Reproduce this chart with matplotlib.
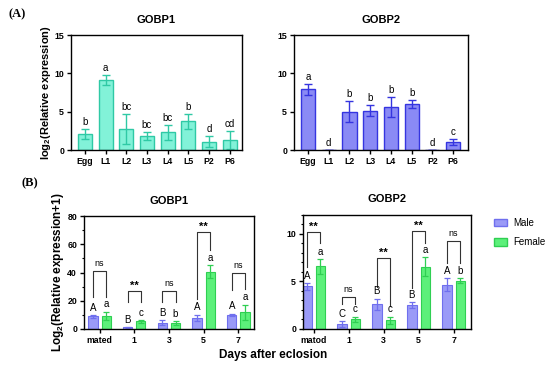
import matplotlib
matplotlib.use("Agg")
import matplotlib.pyplot as plt
from matplotlib.patches import Patch
import numpy as np

plt.rcParams["font.family"] = "Liberation Sans"
plt.rcParams["mathtext.fontset"] = "custom"
plt.rcParams["mathtext.rm"] = "Liberation Sans"
plt.rcParams["mathtext.bf"] = "Liberation Sans:bold"

# ---- panel A data (developmental stages)
stages = ["Egg", "L1", "L2", "L3", "L4", "L5", "P2", "P6"]
a1_mean = [2.1, 9.1, 2.8, 1.8, 2.3, 3.75, 1.1, 1.35]
a1_err = [0.6, 0.65, 1.95, 0.5, 1.0, 1.0, 0.7, 1.15]
a1_let = ["b", "a", "bc", "bc", "bc", "b", "d", "cd"]
a2_mean = [7.95, 0.05, 5.0, 5.15, 5.6, 6.05, 0.05, 1.0]
a2_err = [0.7, 0.0, 1.4, 0.7, 1.3, 0.5, 0.0, 0.4]
a2_let = ["a", "d", "b", "b", "b", "b", "d", "c"]

# ---- panel B data (days after eclosion, male / female)
b1_days = ["mated", "1", "3", "5", "7"]
b2_days = ["matod", "1", "3", "5", "7"]
b1_male = [9.0, 1.2, 4.5, 8.0, 10.0]
b1_male_err = [1.0, 0.3, 2.0, 2.2, 0.9]
b1_fem = [9.3, 5.5, 4.0, 40.5, 11.8]
b1_fem_err = [3.0, 1.1, 1.5, 4.7, 5.5]
b1_male_let = ["A", "B", "B", "A", "A"]
b1_fem_let = ["a", "c", "b", "a", "a"]
b1_sig = ["ns", "**", "ns", "**", "ns"]
b1_br_top = [41, 27, 27, 69, 40]
b1_br_left = [23, 19.3, 19.4, 21, 27.6]
b1_br_right = [23, 19.3, 19.4, 56, 28]

b2_male = [4.5, 0.55, 2.6, 2.55, 4.65]
b2_male_err = [0.35, 0.3, 0.6, 0.3, 0.7]
b2_fem = [6.6, 1.0, 0.9, 6.55, 5.1]
b2_fem_err = [0.8, 0.3, 0.4, 1.0, 0.3]
b2_male_let = ["A", "C", "B", "B", "A"]
b2_fem_let = ["a", "c", "c", "a", "b"]
b2_sig = ["**", "ns", "**", "**", "ns"]
b2_br_top = [10.24, 3.4, 7.5, 10.3, 9.26]
b2_br_left = [6.55, 2.6, 4.45, 4.3, 6.9]
b2_br_right = [9.0, 2.6, 2.4, 9.1, 6.9]

male_fc, male_ec = "#9a9af7", "#6f6fee"
fem_fc, fem_ec = "#5cf07a", "#2fcf52"

fig = plt.figure(figsize=(5.5, 3.66), dpi=100)


def style_axes(ax):
    for s in ax.spines.values():
        s.set_linewidth(1.0)
        s.set_color("black")
    ax.tick_params(axis="both", direction="out", length=3, width=1, labelsize=6.3, pad=2)
    for lab in ax.get_xticklabels() + ax.get_yticklabels():
        lab.set_fontweight("bold")


def stage_panel(rect, mean, err, letters, fc, ec, title, xlim, ylabel=None):
    ax = fig.add_axes(rect)
    x = np.arange(len(stages))
    ax.bar(x, mean, width=0.68, color=fc, edgecolor=ec, linewidth=1.0)
    ax.errorbar(x, mean, yerr=err, fmt="none", ecolor=ec, elinewidth=1.0, capsize=3, capthick=1.0)
    for i in range(len(x)):
        ax.annotate(letters[i], (x[i], mean[i] + err[i]), xytext=(0, 3), textcoords="offset points",
                    ha="center", va="baseline", fontsize=7)
    ax.set_xlim(xlim)
    ax.set_ylim(0, 15)
    ax.set_yticks([0, 5, 10, 15])
    ax.set_xticks(x)
    ax.set_xticklabels(stages)
    ax.set_title(title, fontsize=8, fontweight="bold", pad=9)
    if ylabel:
        ax.set_ylabel(ylabel, fontsize=8, fontweight="bold", labelpad=1)
    style_axes(ax)
    return ax


def day_panel(rect, days, male, male_err, fem, fem_err, mlet, flet, sig, top, left, right,
              title, ylim, yticks, minor, xlim, ylabel=None):
    ax = fig.add_axes(rect)
    g = np.arange(len(days))
    off = 0.19
    w = 0.265
    ax.bar(g - off, male, width=w, color=male_fc, edgecolor=male_ec, linewidth=0.8)
    ax.bar(g + off, fem, width=w, color=fem_fc, edgecolor=fem_ec, linewidth=0.8)
    ax.errorbar(g - off, male, yerr=male_err, fmt="none", ecolor=male_ec, elinewidth=0.9, capsize=2, capthick=0.9)
    ax.errorbar(g + off, fem, yerr=fem_err, fmt="none", ecolor=fem_ec, elinewidth=0.9, capsize=2, capthick=0.9)
    for i in range(len(g)):
        ax.annotate(mlet[i], (g[i] - off, male[i] + male_err[i]), xytext=(0, 3), textcoords="offset points",
                    ha="center", va="baseline", fontsize=7)
        ax.annotate(flet[i], (g[i] + off, fem[i] + fem_err[i]), xytext=(0, 3), textcoords="offset points",
                    ha="center", va="baseline", fontsize=7)
        ax.plot([g[i] - off, g[i] - off, g[i] + off, g[i] + off], [left[i], top[i], top[i], right[i]],
                color="#333333", linewidth=0.8)
        if sig[i] == "**":
            ax.annotate(sig[i], (g[i], top[i]), xytext=(0, 0), textcoords="offset points",
                        ha="center", va="bottom", fontsize=8, fontweight="bold")
        else:
            ax.annotate(sig[i], (g[i], top[i]), xytext=(0, 2), textcoords="offset points",
                        ha="center", va="bottom", fontsize=6.5)
    ax.set_xlim(xlim)
    ax.set_ylim(ylim)
    ax.set_yticks(yticks)
    ax.set_yticks(np.arange(ylim[0], ylim[1] + 0.01, minor), minor=True)
    ax.tick_params(axis="y", which="minor", length=1.5, width=0.8)
    ax.set_xticks(g)
    ax.set_xticklabels(days)
    ax.set_title(title, fontsize=8, fontweight="bold", pad=9)
    if ylabel:
        ax.set_ylabel(ylabel, fontsize=8.5, fontweight="bold", labelpad=1)
    style_axes(ax)
    return ax


stage_panel([0.129, 0.590, 0.311, 0.314], a1_mean, a1_err, a1_let, "#82f2d8", "#2fc9a5", "GOBP1",
            (-0.68, 7.6), ylabel=r"log$_\mathbf{2}$(Relative expression)")
stage_panel([0.5345, 0.590, 0.3164, 0.314], a2_mean, a2_err, a2_let, "#8a8af5", "#3535e0", "GOBP2",
            (-0.68, 7.72))

day_panel([0.1527, 0.1011, 0.309, 0.3087], b1_days, b1_male, b1_male_err, b1_fem, b1_fem_err,
          b1_male_let, b1_fem_let, b1_sig, b1_br_top, b1_br_left, b1_br_right, "GOBP1",
          (0, 80), [0, 20, 40, 60, 80], 10, (-0.45, 4.45),
          ylabel=r"Log$_\mathbf{2}$(Relative expression+1)")
day_panel([0.551, 0.1011, 0.3055, 0.3115], b2_days, b2_male, b2_male_err, b2_fem, b2_fem_err,
          b2_male_let, b2_fem_let, b2_sig, b2_br_top, b2_br_left, b2_br_right, "GOBP2",
          (0, 12), [0, 5, 10], 1, (-0.3, 4.5))

fig.legend(handles=[Patch(facecolor=male_fc, edgecolor=male_ec, label="Male"),
                    Patch(facecolor=fem_fc, edgecolor=fem_ec, label="Female")],
           loc="upper left", bbox_to_anchor=(0.898, 0.405), frameon=False, fontsize=7,
           handlelength=1.35, handleheight=0.8, handletextpad=0.6, labelspacing=1.0,
           borderpad=0, borderaxespad=0)

fig.text(0.031, 0.962, "(A)", fontsize=9, fontweight="bold", family="Liberation Serif", ha="center", va="center")
fig.text(0.055, 0.50, "(B)", fontsize=9, fontweight="bold", family="Liberation Serif", ha="center", va="center")
fig.text(0.497, 0.03, "Days after eclosion", fontsize=8.5, fontweight="bold", ha="center", va="center")

fig.savefig("out.png", dpi=100)
